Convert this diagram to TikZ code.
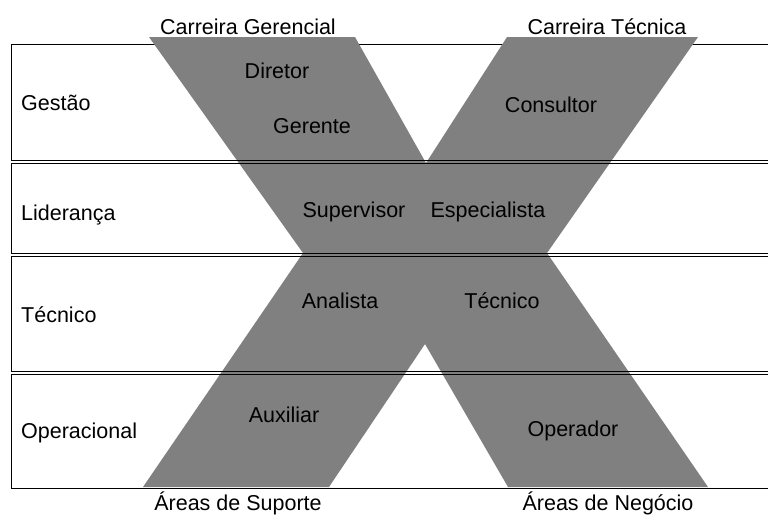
\documentclass[tikz,border=0pt]{standalone}
\usepackage{fontspec}
\setmainfont{Liberation Sans}
\usepackage{tikz}
\usetikzlibrary{positioning,calc}
\definecolor{xgray}{RGB}{128,128,128}

\tikzset{
  level/.style={draw=black, line width=0.8pt},
  lbl/.style={anchor=base, inner sep=0pt, font=\fontsize{21.5}{24}\selectfont},
  rowlbl/.style={lbl, anchor=base west},
}

\begin{document}
\begin{tikzpicture}[x=1pt, y=-1pt]
	\clip (0,0) rectangle (768,517);

	% levels
	\draw[level] (11,44) rectangle (775,160);
	\draw[level] (11,163) rectangle (775,253);
	\draw[level] (11,256) rectangle (775,371);
	\draw[level] (11,374) rectangle (775,488);

	% the X
	\fill[xgray] (149,37) -- (355,37) -- (426,163) -- (507,37) -- (698,37)
		-- (547,253) -- (708,487) -- (508,487) -- (425,344) -- (329,487)
		-- (143,487) -- (303,253) -- cycle;
	\foreach \y in {160,163,253,256,371,374}
		\draw[level] (11,\y) -- (775,\y);

	\node[rowlbl] (gestao) at (21,110) {Gestão};
	\node[rowlbl] (lideranca) at (21,220) {Liderança};
	\node[rowlbl] (tecnico) at (21,322) {Técnico};
	\node[rowlbl] (operacional) at (21,438) {Operacional};

	\node[lbl] (gerencial) at (248,34) {Carreira Gerencial};
	\node[lbl] (tecnica) at (607,34) {Carreira Técnica};
	\node[lbl] (diretor) at (277,78) {Diretor};
	\node[lbl] (gerente) at (312,133) {Gerente};
	\node[lbl] (consultor) at (551,112) {Consultor};
	\node[lbl] (supervisor) at (354,217) {Supervisor};
	\node[lbl] (especialista) at (488,217) {Especialista};
	\node[lbl] (analista) at (340,308) {Analista};
	\node[lbl] (tecnicoR) at (502,308) {Técnico};
	\node[lbl] (auxiliar) at (284,422) {Auxiliar};
	\node[lbl] (operador) at (573,436) {Operador};
	\node[lbl] (suporte) at (238,510) {Áreas de Suporte};
	\node[lbl] (negocio) at (608,510) {Áreas de Negócio};
\end{tikzpicture}
\end{document}
